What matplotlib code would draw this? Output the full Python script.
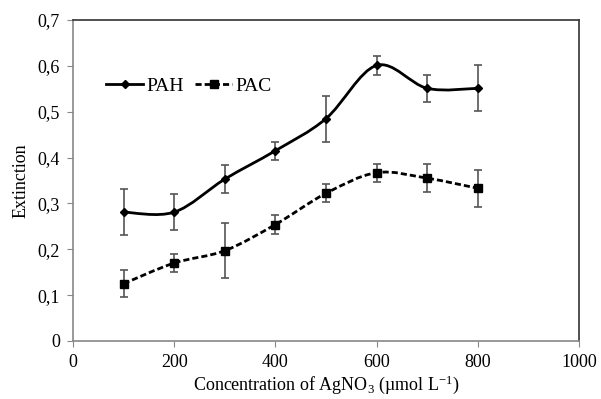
import numpy as np
import matplotlib
matplotlib.use("Agg")
import matplotlib.pyplot as plt
from matplotlib.path import Path
from matplotlib.patches import PathPatch
from matplotlib.lines import Line2D

# data
conc = [100, 200, 300, 400, 500, 600, 700, 800]
pah = [0.281, 0.281, 0.353, 0.415, 0.485, 0.601, 0.551, 0.551]
pah_err = [0.05, 0.04, 0.03, 0.02, 0.05, 0.02, 0.03, 0.05]
pac = [0.125, 0.170, 0.197, 0.254, 0.322, 0.367, 0.355, 0.333]
pac_err = [0.03, 0.02, 0.06, 0.02, 0.02, 0.02, 0.03, 0.04]

plt.rcParams['font.family'] = ['Liberation Serif', 'DejaVu Serif']
plt.rcParams['mathtext.default'] = 'regular'

DASH = (0, (2.2, 1.1))


def smooth_path(x, y):
    """Excel-like smoothed line as cubic bezier segments"""
    x = np.asarray(x, float)
    y = np.asarray(y, float)
    n = len(x)
    verts = [(x[0], y[0])]
    codes = [Path.MOVETO]
    for i in range(n - 1):
        p0 = np.array([x[max(i - 1, 0)], y[max(i - 1, 0)]])
        p1 = np.array([x[i], y[i]])
        p2 = np.array([x[i + 1], y[i + 1]])
        p3 = np.array([x[min(i + 2, n - 1)], y[min(i + 2, n - 1)]])
        c1 = p1 + (p2 - p0) / 6
        c2 = p2 - (p3 - p1) / 6
        verts += [tuple(c1), tuple(c2), tuple(p2)]
        codes += [Path.CURVE4] * 3
    return Path(verts, codes)


fig = plt.figure(figsize=(6.01, 3.99), dpi=100)
ax = fig.add_axes([0.1215, 0.1454, 0.8419, 0.8045])

ax.add_patch(PathPatch(smooth_path(conc, pah), facecolor='none', edgecolor='black', lw=2))
ax.add_patch(PathPatch(smooth_path(conc, pac), facecolor='none', edgecolor='black', lw=2,
                       linestyle=DASH))

ax.errorbar(conc, pah, yerr=pah_err, fmt='D', color='black', ms=3.8,
            ecolor='#555555', elinewidth=1.2, capsize=3, capthick=1.2)
ax.errorbar(conc, pac, yerr=pac_err, fmt='s', color='black', ms=5.2,
            ecolor='#555555', elinewidth=1.2, capsize=3, capthick=1.2)

ax.set_xlim(0, 1000)
ax.set_ylim(0, 0.7)
ax.set_xticks(np.arange(0, 1001, 200))
ax.set_yticks(np.arange(0, 0.71, 0.1))
ax.set_yticklabels(['0'] + [('%.1f' % v).replace('.', ',') for v in np.arange(0.1, 0.71, 0.1)])
ax.tick_params(labelsize=13, direction='out', length=4.3, pad=5, color='#888888')

ax.spines['left'].set_color('#888888')
ax.spines['bottom'].set_color('#888888')
ax.spines['top'].set_color('#333333')
ax.spines['right'].set_color('#333333')
for s in ax.spines.values():
    s.set_linewidth(1.2)

ax.set_xlabel('Concentration of AgNO$_3$ (\u00b5mol L$^{-1}$)', fontsize=13, labelpad=2)
ax.set_ylabel('Extinction', fontsize=13, labelpad=6)

handles = [Line2D([], [], color='black', lw=2, marker='D', ms=3.8),
           Line2D([], [], color='black', lw=2, marker='s', ms=5.2, linestyle=DASH)]
ax.legend(handles, ['PAH', 'PAC'], loc='upper left', bbox_to_anchor=(0.05, 0.845),
          ncol=2, frameon=False, fontsize=14, handlelength=1.9, handletextpad=0.15,
          columnspacing=0.6, borderaxespad=0)

fig.savefig('out.png', dpi=100)
